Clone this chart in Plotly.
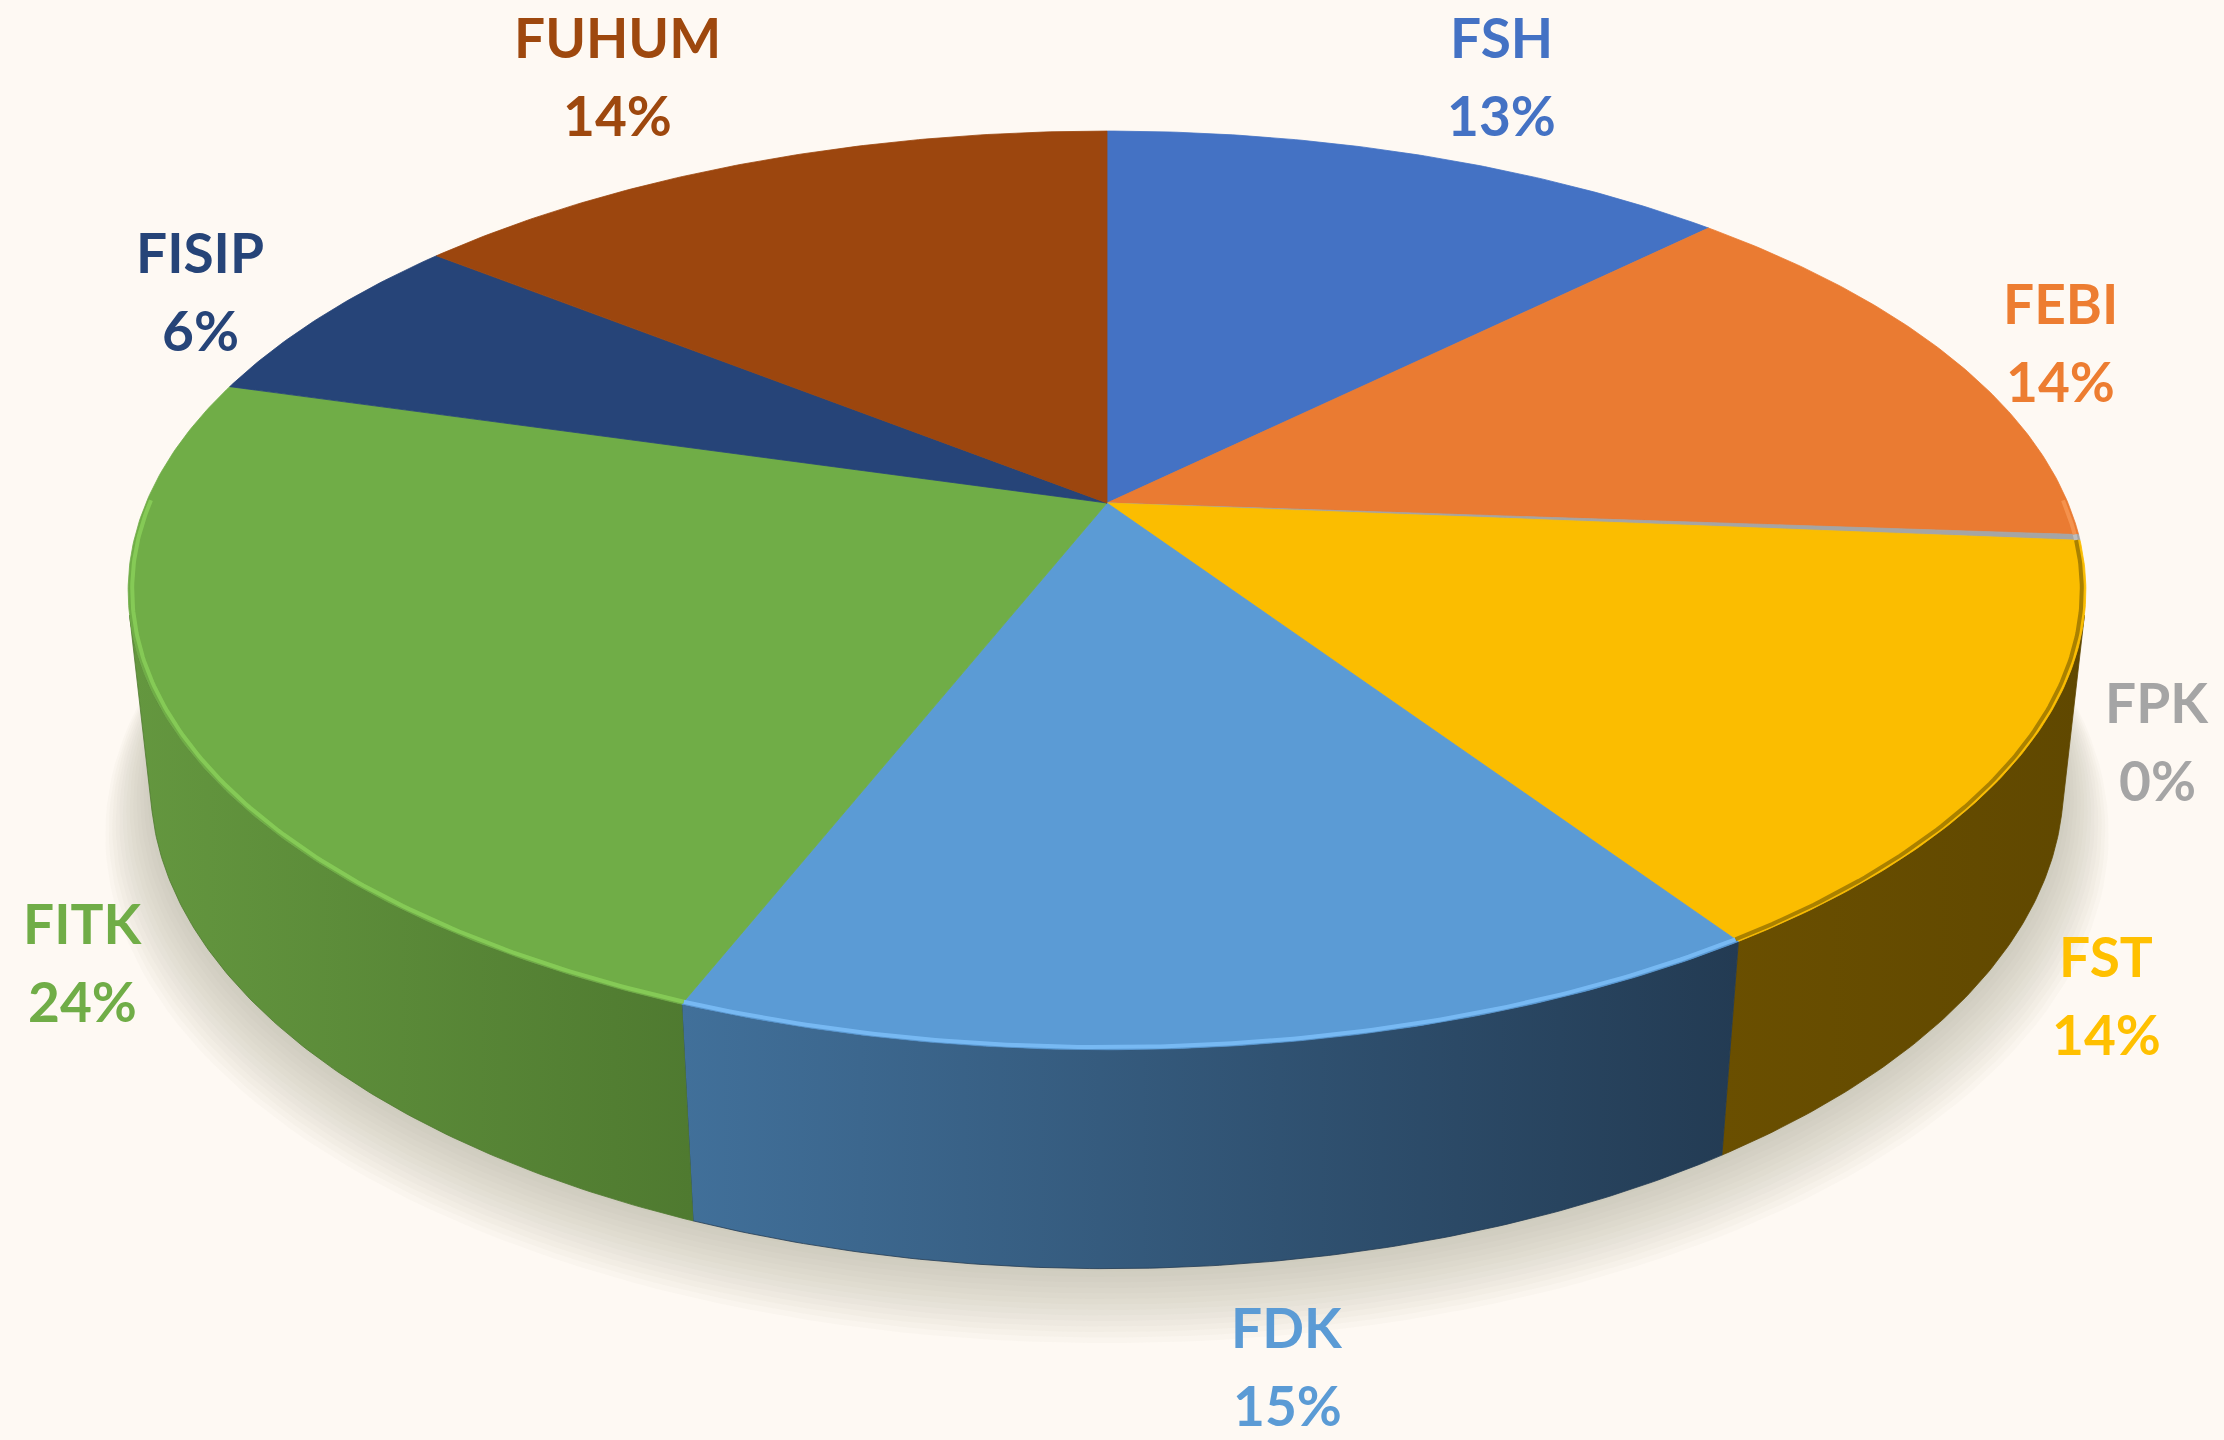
import numpy as np
import plotly.graph_objects as go

# ---------------- data ----------------
categories = ["FSH", "FEBI", "FPK", "FST", "FDK", "FITK", "FISIP", "FUHUM"]
values = [12.6, 13.6, 0.2, 14.4, 15.3, 23.6, 6.3, 14.3]

# ---------------- styles ----------------
top_colors = ["#4472C4", "#EA7B32", "#A5A5A5", "#FBBD00", "#5B9BD5", "#70AD47", "#264478", "#9C460E"]
label_colors = ["#4472C4", "#ED7D31", "#A5A5A5", "#FFC000", "#5B9BD5", "#70AD47", "#264478", "#9E480E"]
side_left = ["#2F5597", "#B05A20", "#7A7A7A", "#6A4F00", "#41709A", "#64973F", "#1B3157", "#6E320A"]
side_right = ["#22406F", "#8A4418", "#5A5A5A", "#604800", "#233B53", "#4F7A30", "#14243F", "#55260A"]
edge_colors = ["#5B8BE0", "#F79550", "#C0C0C0", "#A27B00", "#7BBDF7", "#88CE58", "#3A5C9A", "#B45A1E"]
# label anchor positions (layout, pixel space)
label_pos = {
    "FSH": (1501, 37), "FEBI": (2060, 303), "FPK": (2157, 702), "FST": (2106, 956),
    "FDK": (1287, 1327), "FITK": (82, 923), "FISIP": (200, 252), "FUHUM": (617, 37),
}
LINE_GAP = 78

BG = "#FEF9F3"
W, H_PX = 2224, 1440

# ---------------- 3D projection ----------------
cx, cy = 1107.0, 503.0
s_e = 0.4607
c_e = np.sqrt(1 - s_e ** 2)
D = 4.664
F = 4482.0
H = 0.228


def proj(phi, r, z):
    X = r * np.sin(phi)
    Y = -r * np.cos(phi)
    depth = D - Y * c_e - z * s_e
    sx = cx + F * X / depth
    sy = cy + F * (Y * s_e - z * c_e) / depth
    return sx, sy


vals = np.array(values, dtype=float)
frac = vals / vals.sum()
bounds = np.concatenate([[0.0], np.cumsum(frac)]) * 2 * np.pi
vis_lo = np.arccos(-1.0 / (D * c_e))
vis_hi = 2 * np.pi - vis_lo

fig = go.Figure()

# shadow (soft layers below the base)
for k in range(14):
    phis = np.linspace(0, 2 * np.pi, 240)
    sx, sy = proj(phis, 1.0 + 0.0035 * k, -H)
    sy = sy + 3 + 3 * k
    fig.add_trace(go.Scatter(x=sx, y=sy, mode="lines", fill="toself",
                             fillcolor="rgba(170,155,140,0.045)", line=dict(width=0),
                             hoverinfo="skip", showlegend=False))

# side walls
for i, cat in enumerate(categories):
    a, b = bounds[i], bounds[i + 1]
    a2, b2 = max(a, vis_lo), min(b, vis_hi)
    if b2 <= a2:
        continue
    n = max(3, int(np.degrees(b2 - a2) * 2) + 2)
    ph = np.linspace(a2, b2, n)
    tx, ty = proj(ph, 1.0, 0.0)
    bx, by = proj(ph[::-1], 1.0, -H)
    xs = np.concatenate([tx, bx, tx[:1]])
    ys = np.concatenate([ty, by, ty[:1]])
    fig.add_trace(go.Scatter(
        x=xs, y=ys, mode="lines", fill="toself",
        fillgradient=dict(type="horizontal",
                          colorscale=[[0, side_left[i]], [1, side_right[i]]]),
        line=dict(width=0.8, color=side_right[i]),
        hoverinfo="skip", showlegend=False))

# top face slices
for i, cat in enumerate(categories):
    a, b = bounds[i], bounds[i + 1]
    n = max(3, int(np.degrees(b - a) * 2) + 2)
    ph = np.linspace(a, b, n)
    ax_, ay_ = proj(ph, 1.0, 0.0)
    xs = np.concatenate([[cx], ax_, [cx]])
    ys = np.concatenate([[cy], ay_, [cy]])
    fig.add_trace(go.Scatter(x=xs, y=ys, mode="lines", fill="toself",
                             fillcolor=top_colors[i], line=dict(width=0.8, color=top_colors[i]),
                             hoverinfo="text", text=f"{cat}: {frac[i]*100:.0f}%",
                             showlegend=False))

# bevel highlight on the front rim
for i, cat in enumerate(categories):
    a, b = bounds[i], bounds[i + 1]
    a2, b2 = max(a, vis_lo - 0.25), min(b, vis_hi + 0.25)
    if b2 <= a2:
        continue
    n = max(3, int(np.degrees(b2 - a2) * 2) + 2)
    ph = np.linspace(a2, b2, n)
    ex, ey = proj(ph, 0.996, 0.0)
    fig.add_trace(go.Scatter(x=ex, y=ey, mode="lines",
                             line=dict(width=4, color=edge_colors[i]),
                             opacity=0.9, hoverinfo="skip", showlegend=False))

# labels
annotations = []
for i, cat in enumerate(categories):
    lx, ly = label_pos[cat]
    pct = f"{frac[i]*100:.0f}%"
    for txt, yy in ((cat, ly), (pct, ly + LINE_GAP)):
        annotations.append(dict(
            x=lx, y=yy, xref="x", yref="y", text=txt, showarrow=False,
            xanchor="center", yanchor="middle",
            font=dict(family="Lato", size=55, color=label_colors[i], weight="bold")))

fig.update_layout(
    width=W, height=H_PX,
    margin=dict(l=0, r=0, t=0, b=0),
    paper_bgcolor=BG, plot_bgcolor=BG,
    xaxis=dict(range=[0, W], visible=False, fixedrange=True),
    yaxis=dict(range=[H_PX, 0], visible=False, fixedrange=True),
    annotations=annotations,
    showlegend=False,
)

fig.write_html(
    "out.html",
    config={"displayModeBar": False},
    post_script="document.body.style.margin='0';document.body.style.background='" + BG + "';",
)
